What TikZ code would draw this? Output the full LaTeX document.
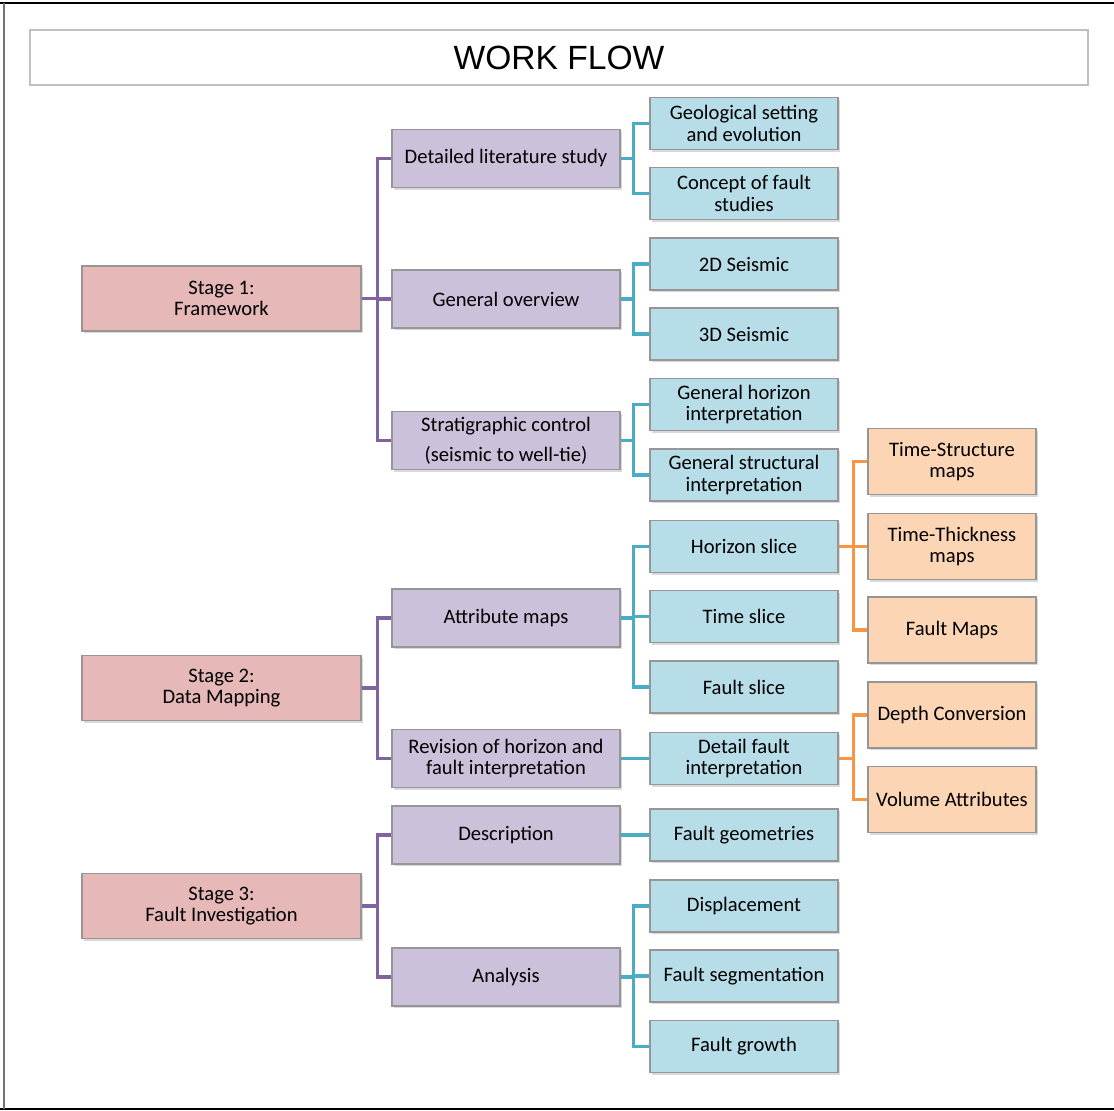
\documentclass[tikz,border=0pt]{standalone}
\usepackage{fontspec}
\setmainfont{Carlito}
\newfontfamily\titlefont{Liberation Sans}
\usepackage{tikz}
\usetikzlibrary{shadows,positioning}

\definecolor{StageFill}{HTML}{E6B9B8}
\definecolor{SubFill}{HTML}{CCC1DA}
\definecolor{LeafFill}{HTML}{B7DEE8}
\definecolor{MapFill}{HTML}{FCD5B5}
\definecolor{PurpleLine}{HTML}{8064A2}
\definecolor{BlueLine}{HTML}{4BACC6}
\definecolor{OrangeLine}{HTML}{F79646}
\definecolor{BoxEdge}{HTML}{969696}

\begin{document}
\begin{tikzpicture}[x=0.5pt,y=-0.5pt]
		\tikzstyle{Box}		= [rectangle, draw=BoxEdge, line width=0.7pt, align=center, inner sep=1pt,
								font=\fontsize{10.3}{10.6}\selectfont,
								drop shadow={shadow xshift=0.8pt, shadow yshift=-1.2pt, opacity=0.3}]
		\tikzstyle{Stage}	= [Box, fill=StageFill, minimum width=139.5pt, minimum height=32.5pt]
		\tikzstyle{Sub}		= [Box, fill=SubFill, minimum width=114pt, minimum height=29pt]
		\tikzstyle{Leaf}	= [Box, fill=LeafFill, minimum width=94pt, minimum height=26pt]
		\tikzstyle{MapBox}	= [Box, fill=MapFill, minimum width=84pt, minimum height=33pt]
		\tikzstyle{PL}		= [PurpleLine, line width=1.6pt]
		\tikzstyle{BL}		= [BlueLine, line width=1.6pt]
		\tikzstyle{OL}		= [OrangeLine, line width=1.6pt]

		\useasboundingbox (0,0) rectangle (1114,1111);

		% frame
		\draw [black, line width=1pt] (0,3) -- (1114,3);
		\draw [black, line width=1pt] (0,1109) -- (1114,1109);
		\draw [black!55, line width=1pt] (3.5,3) -- (3.5,1109);

		\node (title) at (559,57.5) [rectangle, draw=black!25, line width=1pt, minimum width=529pt,
			minimum height=27.5pt, font=\titlefont\fontsize{16.8}{18}\selectfont] {WORK FLOW};

		% stages
		\node (s1) at (221.5,298.5) [Stage] {Stage 1:\\Framework};
		\node (s2) at (221.5,688) [Stage] {Stage 2:\\Data Mapping};
		\node (s3) at (221.5,906) [Stage] {Stage 3:\\Fault Investigation};

		% second level
		\node (p1) at (506,158.5) [Sub] {Detailed literature study};
		\node (p2) at (506,299) [Sub] {General overview};
		\node (p3) at (506,440.5) [Sub] {Stratigraphic control\\[4.5pt](seismic to well-tie)};
		\node (p4) at (506,618) [Sub] {Attribute maps};
		\node (p5) at (506,758.5) [Sub] {Revision of horizon and\\fault interpretation};
		\node (p6) at (506,835) [Sub] {Description};
		\node (p7) at (506,977) [Sub] {Analysis};

		% third level
		\node (b1) at (744,123.5) [Leaf] {Geological setting\\and evolution};
		\node (b2) at (744,193.5) [Leaf] {Concept of fault\\studies};
		\node (b3) at (744,264) [Leaf] {2D Seismic};
		\node (b4) at (744,334) [Leaf] {3D Seismic};
		\node (b5) at (744,404.5) [Leaf] {General horizon\\interpretation};
		\node (b6) at (744,475) [Leaf] {General structural\\interpretation};
		\node (b7) at (744,546.5) [Leaf] {Horizon slice};
		\node (b8) at (744,616.5) [Leaf] {Time slice};
		\node (b9) at (744,687) [Leaf] {Fault slice};
		\node (b10) at (744,758.5) [Leaf] {Detail fault\\interpretation};
		\node (b11) at (744,835) [Leaf] {Fault geometries};
		\node (b12) at (744,906) [Leaf] {Displacement};
		\node (b13) at (744,976) [Leaf] {Fault segmentation};
		\node (b14) at (744,1046.5) [Leaf] {Fault growth};

		% maps
		\node (o1) at (952,461.5) [MapBox] {Time-Structure\\maps};
		\node (o2) at (952,546.5) [MapBox] {Time-Thickness\\maps};
		\node (o3) at (952,630) [MapBox] {Fault Maps};
		\node (o4) at (952,715) [MapBox] {Depth Conversion};
		\node (o5) at (952,799.5) [MapBox] {Volume Attributes};

		% stage connectors
		\draw [PL] (s1.east) -- ++(15.5,0) coordinate (t1);
		\draw [PL] (t1) |- (p1.west);
		\draw [PL] (t1) |- (p3.west);
		\draw [PL] (t1) |- (p2.west);
		\draw [PL] (s2.east) -- ++(15.5,0) coordinate (t2);
		\draw [PL] (t2) |- (p4.west);
		\draw [PL] (t2) |- (p5.west);
		\draw [PL] (s3.east) -- ++(15.5,0) coordinate (t3);
		\draw [PL] (t3) |- (p6.west);
		\draw [PL] (t3) |- (p7.west);

		% second level connectors
		\draw [BL] (p1.east) -- ++(13,0) coordinate (u1);
		\draw [BL] (u1) |- (b1.west);
		\draw [BL] (u1) |- (b2.west);
		\draw [BL] (p2.east) -- ++(13,0) coordinate (u2);
		\draw [BL] (u2) |- (b3.west);
		\draw [BL] (u2) |- (b4.west);
		\draw [BL] (p3.east) -- ++(13,0) coordinate (u3);
		\draw [BL] (u3) |- (b5.west);
		\draw [BL] (u3) |- (b6.west);
		\draw [BL] (p4.east) -- ++(13,0) coordinate (u4);
		\draw [BL] (u4) |- (b7.west);
		\draw [BL] (u4) |- (b8.west);
		\draw [BL] (u4) |- (b9.west);
		\draw [BL] (p5.east) -- (b10.west);
		\draw [BL] (p6.east) -- (b11.west);
		\draw [BL] (p7.east) -- ++(13,0) coordinate (u7);
		\draw [BL] (u7) |- (b12.west);
		\draw [BL] (u7) |- (b13.west);
		\draw [BL] (u7) |- (b14.west);

		% map connectors
		\draw [OL] (b7.east) -- ++(15,0) coordinate (w7);
		\draw [OL] (w7) |- (o1.west);
		\draw [OL] (w7) |- (o2.west);
		\draw [OL] (w7) |- (o3.west);
		\draw [OL] (b10.east) -- ++(15,0) coordinate (w10);
		\draw [OL] (w10) |- (o4.west);
		\draw [OL] (w10) |- (o5.west);
	\end{tikzpicture}
\end{document}
